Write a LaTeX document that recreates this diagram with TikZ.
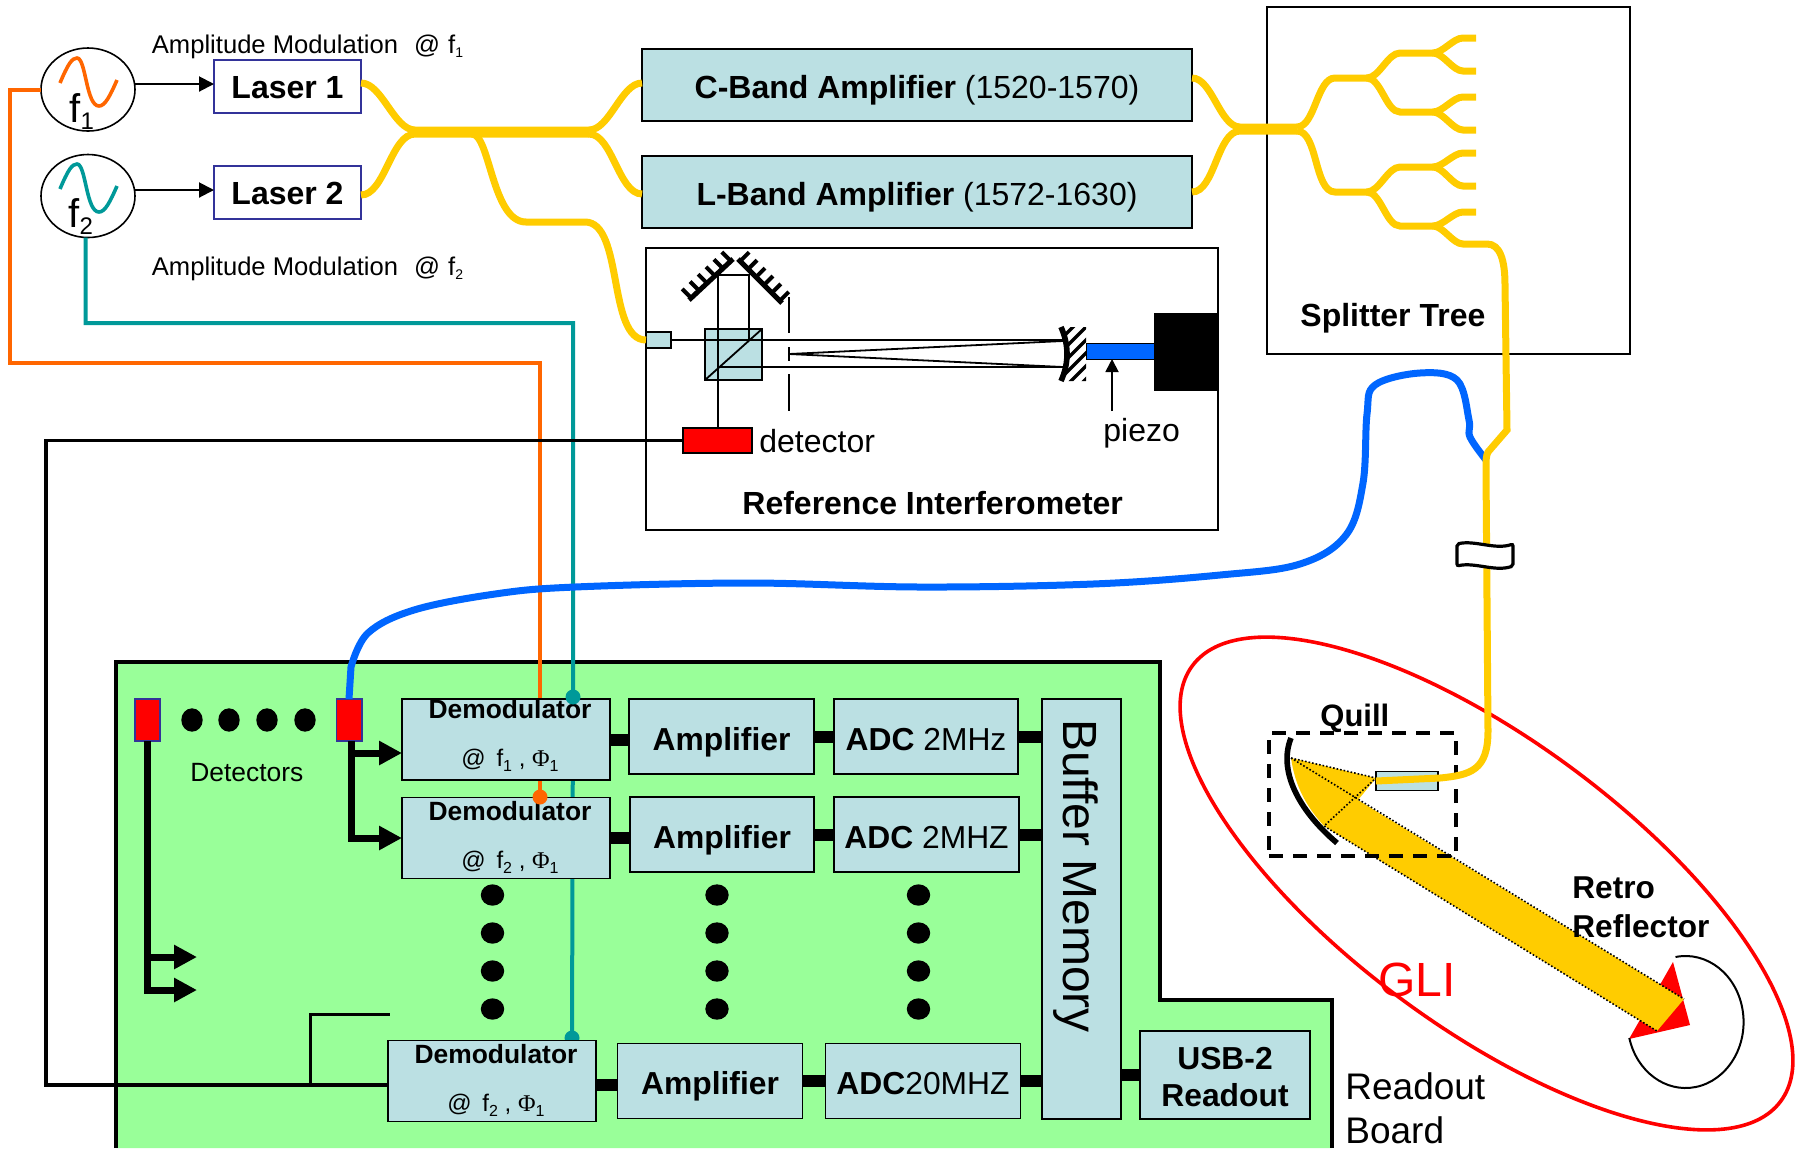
\documentclass[tikz,border=0pt]{standalone}
\usepackage{fontspec}
\setmainfont{Liberation Sans}
\newfontfamily\phifont{Liberation Serif}
\usetikzlibrary{arrows.meta, positioning, shapes.geometric, calc}
\definecolor{boxblue}{HTML}{BBE0E3}
\definecolor{boardgreen}{HTML}{99FF99}
\definecolor{fibreyellow}{HTML}{FFCC00}
\definecolor{fibreblue}{HTML}{0066FF}
\definecolor{wireorange}{HTML}{FF6600}
\definecolor{wireteal}{HTML}{009999}
\definecolor{edgeblue}{HTML}{333399}
\newcommand{\fs}[1]{\fontsize{#1}{19.5}\selectfont}
\newcommand{\lowsub}[3]{\raisebox{#2}{\fs{#1}#3}}
\newcommand{\demodlabel}[2]{\hspace*{4pt}\textbf{Demodulator}\\\hspace*{4pt}\fs{12}@ \,f\lowsub{8}{-2.5pt}{#1} , {\phifont Φ}\lowsub{8}{-2.5pt}{1}\rule[#2]{0pt}{0pt}}

\begin{document}
\begin{tikzpicture}[
    x=0.5pt, y=-0.5pt,
    >={Triangle[length=7.5pt, width=7.5pt]},
    stagebox/.style={draw, fill=boxblue, line width=0.8pt, inner sep=0pt, outer sep=0pt,
                  minimum height=37.5pt, text height=13.5pt, text depth=0pt, font=\fs{15.9}},
    demod/.style={draw, fill=boxblue, line width=0.8pt, inner sep=0pt, outer sep=0pt, align=center,
                  minimum width=104pt, minimum height=40.5pt, font=\fontsize{13.2}{24}\selectfont},
    laser/.style={draw=edgeblue, line width=0.9pt, inner sep=0pt, outer sep=0pt, text height=12pt, text depth=0pt,
                  minimum width=73.5pt, minimum height=26.5pt, font=\fs{16}\bfseries},
    osc/.style={draw, ellipse, line width=0.8pt, inner sep=0pt, outer sep=0pt,
                  minimum width=47pt, minimum height=41.5pt},
    outline/.style={draw, line width=0.8pt, inner sep=0pt, outer sep=0pt},
    detbox/.style={draw=edgeblue, fill=red, line width=0.8pt, inner sep=0pt, outer sep=0pt,
                  minimum width=12.7pt, minimum height=21pt},
    collim/.style={draw, fill=boxblue, line width=0.7pt, inner sep=0pt, outer sep=0pt},
    blob/.style={fill=black, ellipse, inner sep=0pt, minimum width=11.7pt, minimum height=10.7pt},
    tap/.style={circle, inner sep=0pt, minimum size=7.5pt},
    txt/.style={inner sep=0pt, anchor=base west},
    fibre/.style={draw=fibreyellow, line width=3.5pt},
    sbend/.style={out=0, in=180, looseness=0.75},
    sig/.style={->, line width=1pt},
    heavy/.style={-{Triangle[length=11.5pt, width=11.5pt]}, line width=3.5pt},
    bus/.style={line width=6pt},
    wire/.style={line width=2pt},
    optic/.style={line width=0.9pt},
]
\useasboundingbox (0,0) rectangle (1804,1148);

% Readout board
\fill[boardgreen] (116,662) -- (1160,662) -- (1160,1000) -- (1332,1000) -- (1332,1148) -- (116,1148) -- cycle;
\draw[line width=1.8pt] (116,1148) -- (116,662) -- (1160,662) -- (1160,1000) -- (1332,1000) -- (1332,1148);

% Oscillators
\node[osc] (oscA) at (88,89.5) {};
\node[osc] (oscB) at (88,196) {};
\foreach \off/\col in {0/wireorange, 106/wireteal}
  \draw[\col, line width=1.8pt, shift={(0,\off)}] (60,83) .. controls (68,64) and (72,58) .. (77,58)
    .. controls (86,58) and (86,106) .. (99,106) .. controls (105,106) and (110,96) .. (117,80);
\node[txt, font=\fs{20}] (labfA) at (69,122) {f\lowsub{12}{-3.5pt}{1}};
\node[txt, font=\fs{20}] (labfB) at (68,227) {f\lowsub{12}{-3.5pt}{2}};

% Modulation lines (they run behind the demodulators)
\coordinate (tapA) at (573,697);
\coordinate (tapB) at (540,797);
\coordinate (tapC) at (572,1038);
\draw[wireorange, wire] (oscA.west) -- (10,89.5) -- (10,363) -- (540,363) -- (tapB);
\draw[wireteal, wire] ([xshift=-1.25pt]oscB.south) -- (85.5,323) -- (573,323) -- (tapA) -- (tapC);
\node[tap, fill=wireteal] (dotC) at (tapC) {};

% Lasers
\node[laser] (laserA) at (287.5,86.5) {Laser 1};
\node[laser] (laserB) at (287.5,192.5) {Laser 2};
\draw[sig] ([yshift=1.25pt]laserA.west -| oscA.east) -- ([yshift=1.25pt]laserA.west);
\draw[sig] ([yshift=1.25pt]laserB.west -| oscB.east) -- ([yshift=1.25pt]laserB.west);
\node[txt, font=\fs{12.8}] (modA) at (151.5,53) {Amplitude Modulation\hspace{4.5pt} @\hspace{0.5pt} f\lowsub{7}{-2pt}{1}};
\node[txt, font=\fs{12.8}] (modB) at (151.5,275) {Amplitude Modulation\hspace{4.5pt} @\hspace{0.5pt} f\lowsub{7}{-2pt}{2}};

% Band amplifiers
\node[stagebox, minimum width=275pt, minimum height=36pt, font=\fs{16}] (ampC) at (917,85) {\textbf{C-Band Amplifier} (1520-1570)};
\node[stagebox, minimum width=275pt, minimum height=36pt, font=\fs{16}] (ampL) at (917,192) {\textbf{L-Band Amplifier} (1572-1630)};

% Reference interferometer
\node[outline, minimum width=286pt, minimum height=141pt] (interf) at (932,389) {};
\node[collim, minimum width=12.5pt, minimum height=8pt] (collR) at (658.5,340) {};
\node[collim, minimum width=28.5pt, minimum height=25.5pt] (cube) at (733.5,354.5) {};
\draw[optic] (cube.south west) -- (cube.north east);
\draw[optic] (collR.east) -- (1063,340);
\draw[optic] (718,367) -- (1063,367);
\draw[optic] (789,354) -- (1063,341);
\draw[optic] (789,354) -- (1063,367);
\draw[optic] (718,427) -- (718,275) -- (749,275) -- (749,340);
\draw[optic] (789,297) -- (789,333);
\draw[optic] (789,347) -- (789,361);
\draw[optic] (789,374) -- (789,411);
% grating mirrors
\draw[line width=2.5pt] (689,300) -- (733,259);
\draw[line width=2.5pt] (738,259) -- (782,303);
\foreach \t in {0.05, 0.23, 0.41, 0.59, 0.77, 0.95} {
  \draw[line width=2pt] ($(689,300)!\t!(733,259)$) -- ++(-9,-9);
  \draw[line width=2pt] ($(738,259)!\t!(782,303)$) -- ++(9,-9);
}
% focus mirror and piezo
\begin{scope}
  \clip (1061,327) .. controls (1069,345) and (1069,363) .. (1061,381) -- (1086,381) -- (1086,327) -- cycle;
  \foreach \h in {340, 353, ..., 418}
    \draw[line width=1.7pt] (1060,\h) -- ++(30,-30);
\end{scope}
\draw[line width=2.8pt] (1061,327) .. controls (1069,345) and (1069,363) .. (1061,381);
\node[inner sep=0pt, outer sep=0pt, fill=fibreblue, draw=black, line width=0.4pt, minimum width=34pt, minimum height=8pt] (piezo) at (1120,351) {};
\node[inner sep=0pt, outer sep=0pt, fill=black, minimum width=32pt, minimum height=39pt] (mount) at (1186,352) {};
\node[txt, font=\fs{16}] (piezolab) at (1103,441) {piezo};
\coordinate (piezofoot) at (1112,411);
\draw[->, line width=0.9pt, >={Triangle[length=6.5pt, width=6.5pt]}] (piezofoot) -- (piezo.south -| piezofoot);
\node[draw, fill=red, line width=0.8pt, inner sep=0pt, outer sep=0pt, minimum width=34.5pt, minimum height=12.5pt] (detR) at (717.5,440.5) {};
\node[inner sep=0pt, font=\fs{16}, right=3.5pt of detR, yshift=-0.5pt] (detlab) {detector};
\node[txt, font=\fs{16}\bfseries] (interflab) at (742,514) {Reference Interferometer};

% Splitter tree
\node[outline, minimum width=181.5pt, minimum height=173.5pt] (tree) at (1448.5,180.5) {};
\node[txt, font=\fs{16}\bfseries] (treelab) at (1300,326) {Splitter Tree};

% Demodulators
\node[demod] (demA) at (506,739.5) {\demodlabel{1}{-7pt}};
\node[demod] (demB) at (506,838) {\demodlabel{2}{-3.5pt}};
\node[demod] (demC) at (492,1081) {\demodlabel{2}{-3.5pt}};

% Amplifiers and ADCs
\node[stagebox, minimum width=92.5pt, right=9.5pt of demA, yshift=1.5pt] (ampA) {\textbf{Amplifier}};
\node[stagebox, minimum width=92pt, right=10pt of ampA] (adcA) {\textbf{ADC} 2MHz};
\node[stagebox, minimum width=92pt, right=10pt of demB, yshift=1.75pt] (ampB) {\textbf{Amplifier}};
\node[stagebox, minimum width=92.5pt, right=10pt of ampB] (adcB) {\textbf{ADC} 2MHZ};
\node[stagebox, minimum width=92.5pt, right=10.75pt of demC] (ampD) {\textbf{Amplifier}};
\node[stagebox, minimum width=97.5pt, right=11.5pt of ampD] (adcD) {\textbf{ADC}20MHZ};
\node[stagebox, text height=, text depth=, minimum width=39.5pt, minimum height=210pt] (buffer) at (1081.5,909) {};
\node[inner sep=0pt, rotate=-90, font=\fs{24}] (bufferlab) at (1076,876) {Buffer Memory};
\node[stagebox, text height=, text depth=, minimum width=85pt, minimum height=44pt, align=center, font=\fontsize{15.9}{18.5}\selectfont\bfseries] (usb) at (1225,1075) {\rule{0pt}{13pt}USB-2\\Readout};

% Links between blocks
\draw[bus] (demA.east) -- (demA.east -| ampA.west);
\draw[bus] (ampA.east) -- (adcA.west);
\draw[bus] (adcA.east) -- (adcA.east -| buffer.west);
\draw[bus] (demB.east) -- (demB.east -| ampB.west);
\draw[bus] (ampB.east) -- (adcB.west);
\draw[bus] (adcB.east) -- (adcB.east -| buffer.west);
\draw[bus] ([yshift=-2pt]demC.east) -- ([yshift=-2pt]demC.east -| ampD.west);
\draw[bus] (ampD.east) -- (adcD.west);
\draw[bus] (adcD.east) -- (adcD.east -| buffer.west);
\draw[bus] (usb.west -| buffer.east) -- (usb.west);

% Tap points
\node[tap, fill=wireteal] (dotA) at (tapA) {};
\node[tap, fill=wireorange] (dotB) at (tapB) {};

% Detectors
\node[detbox] (detA) at (147.5,720) {};
\node[detbox] (detB) at (349,720) {};
\foreach \i/\x in {1/192, 2/229, 3/267, 4/305}
  \node[blob, minimum width=10.7pt, minimum height=11.7pt] (dotD\i) at (\x,720) {};
\node[txt, font=\fs{13.2}] (detslab) at (190,781) {Detectors};
\coordinate (stubA) at (197,957);
\coordinate (stubB) at (197,990);
\draw[heavy] (detA.south) |- (stubA);
\draw[heavy] (detA.south) |- (stubB);
\draw[heavy] ([xshift=1pt]detB.south) |- ([yshift=-6.75pt]demA.west);
\draw[heavy] ([xshift=1pt]detB.south) |- (demB.west);

% Interferometer signal
\coordinate (bendA) at (46,1085);
\coordinate (branchA) at (310,1085);
\coordinate (branchB) at (390,1014);
\draw[line width=1.9pt] (detR.west) -| (bendA) -- ([yshift=-2pt]demC.west);
\draw[line width=1.5pt] (branchA) |- (branchB);

% Column dots
\foreach \x in {492.5, 717, 918.5}
  \foreach \y [count=\n] in {895, 933, 971, 1009}
    \node[blob] (dot\n) at (\x,\y) {};

% GLI
\node[draw=red, ellipse, line width=1.8pt, rotate=-36.5, inner sep=0pt, minimum width=366pt, minimum height=143.5pt] (gli) at (1486.5,883.5) {};
\node[txt, red, font=\fs{24}] (glilab) at (1378,996) {GLI};
\fill[red] (1673,962) -- (1690,1025) -- (1629,1039) -- cycle;
\draw[line width=1pt] (1675.5,957) arc (-100:166:58 and 66);
\fill[fibreyellow] (1291,758) -- (1376,778) -- (1358,800) -- (1684,999) -- (1657,1031) -- (1324,826)
  .. controls (1305,805) and (1295,785) .. cycle;
\draw[densely dotted, line width=0.8pt] (1291,758) -- (1376,778) -- (1324,826) -- (1657,1031);
\draw[densely dotted, line width=0.8pt] (1291,758) -- (1684,999);

% Quill
\node[draw, dashed, dash pattern=on 7pt off 5pt, line width=1.8pt, inner sep=0pt, minimum width=93.5pt, minimum height=61.5pt] (quill) at (1362.5,794.5) {};
\node[txt, font=\fs{15.5}\bfseries] (quilllab) at (1320,726) {Quill};
\draw[line width=2.8pt] (1291,738) .. controls (1278,770) and (1298,810) .. (1337,843);
\node[collim, minimum width=31pt, minimum height=9.75pt] (collQ) at (1407,781) {};
\node[inner sep=0pt, anchor=north west, align=left, font=\fs{15.8}\bfseries] (retrolab) at (1572,876) {Retro\\Reflector};
\node[inner sep=0pt, anchor=north west, align=left, font=\fontsize{18.5}{22}\selectfont] (boardlab) at (1345,1072) {Readout\\Board};

% Blue return fibre
\draw[fibreblue, line width=3.5pt] (detB.north) -- plot[smooth, tension=0.6] coordinates {(351,667) (368,633) (414,610) (495,594) (575,587) (748,583) (920,587) (1093,584) (1220,575) (1300,564) (1346,535) (1363,483) (1367,414) (1375,385) (1420,373) (1457,380) (1469,420) (1470,437) (1486,460)};

% Yellow fibres
\draw[fibre] ([yshift=1.75pt]laserA.east) to[sbend] (415,130) -- (589,130);
\draw[fibre] ([yshift=-1.25pt]laserB.east) to[sbend] (415,134) -- (589,134);
\draw[fibre] (589,130) to[sbend] ([yshift=1pt]ampC.west);
\draw[fibre] (589,134) to[sbend] ([yshift=-1pt]ampL.west);
\draw[fibre] (472,134) .. controls (490,134) and (492,222) .. (526,222) -- (585,222) to[sbend] (collR.west);
\draw[fibre] ([yshift=3.5pt]ampC.east) to[sbend] (1240,127) -- (1297,127);
\draw[fibre] (ampL.east) to[sbend] (1240,131) -- (1297,131);
\draw[fibre] (1297,127) to[sbend] (1335,78) -- (1367,78);
\draw[fibre] (1297,131) to[sbend] (1335,192) -- (1367,192);
\foreach \ya/\yb in {78/53, 78/112, 192/167, 192/226}
  \draw[fibre] (1367,\ya) to[sbend] (1400,\yb) -- (1433,\yb);
\foreach \ya/\yb in {53/38, 53/71, 112/97, 112/130, 167/153, 167/186, 226/212}
  \draw[fibre] (1433,\ya) to[sbend] (1463,\yb) -- (1476,\yb);
\draw[fibre] (1433,226) to[sbend] (1463,244) -- (1487,244) .. controls (1500,244) and (1505,260) .. (1505,285)
  -- (1507,430) -- (1488,452) .. controls (1486,456) and (1486,460) .. (1486,470) -- (1488,731)
  .. controls (1488,770) and (1471,775) .. (1440,778) -- (collQ.west);

% Fibre clip
\draw[fill=white, line width=1.6pt, rounded corners=1pt] (1457,544) .. controls (1475,540) and (1495,550) .. (1513,544)
  -- (1513,566) .. controls (1495,572) and (1475,562) .. (1457,566) -- cycle;

\end{tikzpicture}
\end{document}
